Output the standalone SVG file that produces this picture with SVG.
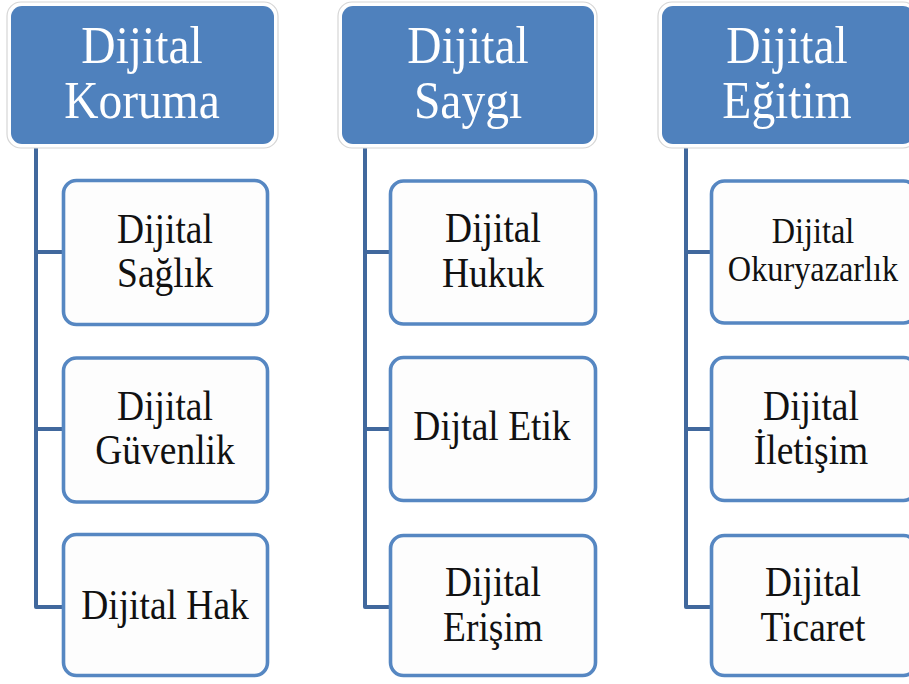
<svg xmlns="http://www.w3.org/2000/svg" width="909" height="684" viewBox="0 0 909 684">
<style>
.hring{fill:#ffffff;stroke:#d6d6d6;stroke-width:1.2}
.hbox{fill:#4f81bd}
.cbox{fill:#fdfdfd;stroke:#5687c2;stroke-width:3.6}
.conn{fill:none;stroke:#41689d;stroke-width:4;stroke-linejoin:round}
.ht{font-family:"Liberation Serif","Times New Roman",serif;font-size:47.5px;fill:#ffffff;text-anchor:middle}
.ct{font-family:"Liberation Serif","Times New Roman",serif;font-size:37.5px;fill:#111111;text-anchor:middle}
.cs{font-family:"Liberation Serif","Times New Roman",serif;font-size:32.3px;fill:#111111;text-anchor:middle}
</style>
<rect width="909" height="684" fill="#ffffff"/>
<g id="connectors">
<path class="conn" d="M36,145 V607 H62 M36,252 H62 M36,429 H62"/>
<path class="conn" d="M365,145 V607 H389 M365,252 H389 M365,429 H389"/>
<path class="conn" d="M686,145 V607 H710 M686,252 H710 M686,429 H710"/>
</g>
<g id="h1">
<rect class="hring" x="7" y="2" width="271" height="146" rx="14"/>
<rect class="hbox" x="11" y="6" width="263" height="138" rx="11"/>
<text class="ht" transform="translate(142,63) scale(1,1.11)">Dijital</text>
<text class="ht" transform="translate(142,118) scale(1,1.11)">Koruma</text>
</g>
<g id="h2">
<rect class="hring" x="338" y="2" width="259" height="146" rx="14"/>
<rect class="hbox" x="342" y="6" width="252" height="138" rx="11"/>
<text class="ht" transform="translate(468,63) scale(1,1.11)">Dijital</text>
<text class="ht" transform="translate(468,118) scale(1,1.11)">Saygı</text>
</g>
<g id="h3">
<rect class="hring" x="658" y="2" width="259" height="146" rx="14"/>
<rect class="hbox" x="662" y="6" width="252" height="138" rx="11"/>
<text class="ht" transform="translate(787,63) scale(1,1.11)">Dijital</text>
<text class="ht" transform="translate(787,118) scale(1,1.11)">Eğitim</text>
</g>
<g id="c1a">
<rect class="cbox" x="63.5" y="180.5" width="204" height="144" rx="13"/>
<text class="ct" transform="translate(165,243) scale(1,1.11)">Dijital</text>
<text class="ct" transform="translate(165,287) scale(1,1.11)">Sağlık</text>
</g>
<g id="c1b">
<rect class="cbox" x="63.5" y="358" width="204" height="144" rx="13"/>
<text class="ct" transform="translate(165,420) scale(1,1.11)">Dijital</text>
<text class="ct" transform="translate(165,463.5) scale(1,1.11)">Güvenlik</text>
</g>
<g id="c1c">
<rect class="cbox" x="63.5" y="534.5" width="204" height="141" rx="13"/>
<text class="ct" transform="translate(165,618.5) scale(1,1.11)">Dijital Hak</text>
</g>
<g id="c2a">
<rect class="cbox" x="390.5" y="181" width="205" height="143" rx="13"/>
<text class="ct" transform="translate(493,242) scale(1,1.11)">Dijital</text>
<text class="ct" transform="translate(493,287) scale(1,1.11)">Hukuk</text>
</g>
<g id="c2b">
<rect class="cbox" x="390.5" y="357.5" width="205" height="143" rx="13"/>
<text class="ct" transform="translate(492,440) scale(1,1.11)">Dijtal Etik</text>
</g>
<g id="c2c">
<rect class="cbox" x="390.5" y="535.5" width="205" height="140" rx="13"/>
<text class="ct" transform="translate(493,596) scale(1,1.11)">Dijital</text>
<text class="ct" transform="translate(493,641) scale(1,1.11)">Erişim</text>
</g>
<g id="c3a">
<rect class="cbox" x="711.5" y="181" width="205" height="142" rx="13"/>
<text class="cs" transform="translate(813,243) scale(1,1.11)">Dijital</text>
<text class="cs" transform="translate(813,281) scale(1,1.11)">Okuryazarlık</text>
</g>
<g id="c3b">
<rect class="cbox" x="711.5" y="357.5" width="205" height="143" rx="13"/>
<text class="ct" transform="translate(811,420) scale(1,1.11)">Dijital</text>
<text class="ct" transform="translate(811,463.5) scale(1,1.11)">İletişim</text>
</g>
<g id="c3c">
<rect class="cbox" x="711.5" y="535.5" width="205" height="140" rx="13"/>
<text class="ct" transform="translate(813,596) scale(1,1.11)">Dijital</text>
<text class="ct" transform="translate(813,641) scale(1,1.11)">Ticaret</text>
</g>
</svg>
